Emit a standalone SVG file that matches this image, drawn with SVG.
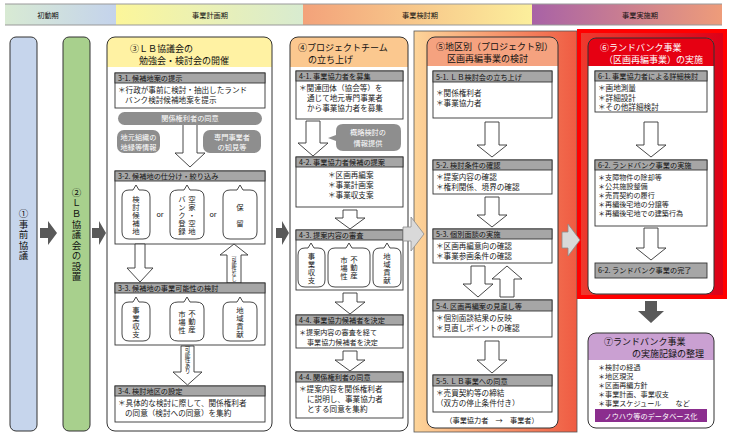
<svg xmlns="http://www.w3.org/2000/svg" width="733" height="434" viewBox="0 0 733 434">
<defs>
<linearGradient id="g1" x1="0" x2="1"><stop offset="0" stop-color="#d8ead3"/><stop offset="1" stop-color="#c4d3ec"/></linearGradient>
<linearGradient id="g2" x1="0" x2="1"><stop offset="0" stop-color="#fcf69a"/><stop offset="1" stop-color="#d8ebd0"/></linearGradient>
<linearGradient id="g3" x1="0" x2="1"><stop offset="0" stop-color="#f3a27a"/><stop offset="1" stop-color="#fcef9c"/></linearGradient>
<linearGradient id="g4" x1="0" x2="1"><stop offset="0" stop-color="#a862a6"/><stop offset="1" stop-color="#ee9c7a"/></linearGradient>
<linearGradient id="g5" x1="0" x2="1"><stop offset="0" stop-color="#fdd59a"/><stop offset="1" stop-color="#ef5b42"/></linearGradient>
<linearGradient id="g6" x1="0" x2="1"><stop offset="0" stop-color="#ee3a2e"/><stop offset="1" stop-color="#dc0018"/></linearGradient>
<style>
.t{font-family:"Noto Sans CJK JP","Noto Sans CJK SC",sans-serif;fill:#222}
.b{font-size:7.6px}
.bs{font-size:7.1px}
.h{font-size:7.2px;fill:#111}
.ti{font-size:9px;fill:#111}
.v{writing-mode:vertical-rl;text-orientation:upright;text-anchor:middle}
.vt{font-size:9.5px;fill:#111;letter-spacing:1px}
.vc{font-size:7.4px;letter-spacing:0.6px}
.vs{font-size:5.2px}
.c{text-anchor:middle}
.w{fill:#fff}
.sb{fill:#fff;stroke:#333;stroke-width:0.9}
.sh{fill:#a6a6a6;stroke:#333;stroke-width:0.9}
.ha{fill:#fff;stroke:#333;stroke-width:0.9}
.da{fill:#595959}
.la{fill:#d9d9d9;stroke:#8a8a8a;stroke-width:0.8}
.pill{fill:#8e8e8e}
.col{stroke:#333;stroke-width:1}
</style>
</defs>

<g id="phase-bar">
<rect x="5" y="4" width="111" height="21" fill="url(#g1)"/>
<rect x="116" y="4" width="187" height="21" fill="url(#g2)"/>
<rect x="303" y="4" width="229" height="21" fill="url(#g3)"/>
<rect x="532" y="4" width="190" height="21" fill="url(#g4)"/>
<line x1="5" y1="4" x2="722" y2="4" stroke="#999" stroke-width="1"/>
<line x1="5" y1="25" x2="722" y2="25" stroke="#999" stroke-width="1"/>
<text class="t h c" x="48" y="17.5">初動期</text>
<text class="t h c" x="210" y="17.5">事業計画期</text>
<text class="t h c" x="420" y="17.5">事業検討期</text>
<text class="t h c" x="640" y="17.5">事業実施期</text>
</g>

<g id="panel5">
<rect x="414" y="31" width="163" height="401" fill="url(#g5)" stroke="#555" stroke-width="0.8"/>
</g>
<g id="panel6">
<rect x="579" y="31" width="146" height="266" fill="url(#g6)"/>
<rect x="579" y="31" width="146" height="266" fill="none" stroke="#ff0000" stroke-width="4"/>
</g>

<g id="n1">
<rect class="col" x="10" y="37" width="27" height="394" rx="6" fill="#c6d5ec"/>
<text class="t v vt" x="23.5" y="235">①事前協議</text>
</g>

<g id="n2">
<rect class="col" x="63" y="37" width="27" height="394" rx="6" fill="#a8d08d"/>
<text class="t v vt" x="76.5" y="235">②ＬＢ協議会の設置</text>
</g>

<g id="n3">
<rect x="107" y="37" width="165" height="394" rx="8" fill="#fff"/>
<path d="M107,67 V45 Q107,37 115,37 H264 Q272,37 272,45 V67 Z" fill="#fff2a3"/>
<rect class="col" x="107" y="37" width="165" height="394" rx="8" fill="none"/>
<text class="t ti" x="130" y="52">③ＬＢ協議会の</text>
<text class="t ti" x="139" y="63.5">勉強会・検討会の開催</text>

<rect class="sb" x="115" y="73" width="150" height="35"/>
<rect class="sh" x="115" y="73" width="150" height="10"/>
<text class="t h" x="118" y="81">3-1. 候補地案の提示</text>
<text class="t b" x="118" y="93">＊行政が事前に検討・抽出したランド</text>
<text class="t b" x="125" y="102.5">バンク検討候補地案を提示</text>

<path class="ha" d="M183,124 H197 V153 H205 L190,167 L175,153 H183 Z"/>
<rect class="pill" x="118" y="112" width="144" height="13" rx="6.5"/>
<text class="t h c w" x="190" y="121">関係権利者の同意</text>
<rect class="pill" x="117" y="130" width="43" height="23" rx="7"/>
<text class="t h c w" x="138.5" y="140">地元組織の</text>
<text class="t h c w" x="138.5" y="149.5">地縁等情報</text>
<rect class="pill" x="203" y="130" width="58" height="23" rx="7"/>
<text class="t h c w" x="232" y="140">専門事業者</text>
<text class="t h c w" x="232" y="149.5">の知見等</text>

<rect class="sb" x="115" y="171" width="150" height="73"/>
<rect class="sh" x="115" y="171" width="150" height="10"/>
<text class="t h" x="118" y="179">3-2. 候補地の仕分け・絞り込み</text>
<path class="ha" d="M129,190 H133 L136,185 L139,190 H143 Q150,190 150,197 V232 Q150,239 143,239 H129 Q122,239 122,232 V197 Q122,190 129,190 Z"/>
<text class="t v vc" x="136" y="215">検討候補地</text>
<text class="t h c" x="160" y="217">or</text>
<path class="ha" d="M178,190 H184 L187,185 L190,190 H196 Q204,190 204,197 V232 Q204,239 196,239 H178 Q170,239 170,232 V197 Q170,190 178,190 Z"/>
<text class="t v vc" x="192" y="215">空家・空地</text>
<text class="t v vc" x="182" y="215">バンク登録</text>
<text class="t h c" x="213" y="217">or</text>
<path class="ha" d="M230,190 H237 L240,185 L243,190 H250 Q257,190 257,197 V232 Q257,239 250,239 H230 Q223,239 223,232 V197 Q223,190 230,190 Z"/>
<text class="t v vc" x="240" y="215">保　留</text>

<path class="ha" d="M135,244 H145 V268 H153 L140,282 L127,268 H135 Z"/>
<path class="ha" d="M227,283 V255 H220 L234,244 L248,255 H241 V283 Z"/>
<text class="t v vs" x="234" y="269">可能性なし</text>

<rect class="sb" x="115" y="283" width="150" height="62"/>
<rect class="sh" x="115" y="283" width="150" height="10"/>
<text class="t h" x="118" y="291">3-3. 候補地の事業可能性の検討</text>
<path class="ha" d="M129,302 H133 L136,297 L139,302 H143 Q150,302 150,309 V334 Q150,341 143,341 H129 Q122,341 122,334 V309 Q122,302 129,302 Z"/>
<text class="t v vc" x="136" y="322">事業収支</text>
<path class="ha" d="M178,302 H184 L187,297 L190,302 H196 Q204,302 204,309 V334 Q204,341 196,341 H178 Q170,341 170,334 V309 Q170,302 178,302 Z"/>
<text class="t v vc" x="192" y="321">不動産</text>
<text class="t v vc" x="182" y="322">市場性</text>
<path class="ha" d="M230,302 H237 L240,297 L243,302 H250 Q257,302 257,309 V334 Q257,341 250,341 H230 Q223,341 223,334 V309 Q223,302 230,302 Z"/>
<text class="t v vc" x="240" y="322">地域貢献</text>

<path class="ha" d="M181,346 H194 V372 H202 L187.5,385 L173,372 H181 Z"/>
<text class="t v vs" style="font-size:5.6px" x="187.5" y="360">可能性あり</text>

<rect class="sb" x="115" y="386" width="150" height="36"/>
<rect class="sh" x="115" y="386" width="150" height="10"/>
<text class="t h" x="118" y="394">3-4. 検討地区の設定</text>
<text class="t b" x="118" y="406">＊具体的な検討に際して、関係権利者</text>
<text class="t b" x="125" y="416">の同意（検討への同意）を集約</text>
</g>

<g id="n4">
<rect x="290" y="37" width="118" height="394" rx="8" fill="#fff"/>
<path d="M290,67 V45 Q290,37 298,37 H400 Q408,37 408,45 V67 Z" fill="#fbc88f"/>
<rect class="col" x="290" y="37" width="118" height="394" rx="8" fill="none"/>
<text class="t ti" x="298" y="51">④プロジェクトチーム</text>
<text class="t ti" x="308" y="63">の立ち上げ</text>

<rect class="sb" x="296" y="71" width="107" height="48"/>
<rect class="sh" x="296" y="71" width="107" height="10"/>
<text class="t h" x="299" y="79">4-1. 事業協力者を募集</text>
<text class="t b" x="299" y="91">＊関連団体（協会等）を</text>
<text class="t b" x="307" y="101">通じて地元専門事業者</text>
<text class="t b" x="307" y="111">から事業協力者を募集</text>

<path class="ha" d="M306,121 H320 V143 H328 L313,156 L298,143 H306 Z"/>
<path class="pill" d="M343,124 H394 Q401,124 401,131 V144 Q401,151 394,151 H343 Q336,151 336,144 V141 L328,138 L336,135 V131 Q336,124 343,124 Z"/>
<text class="t h c w" x="368" y="135">概略検討の</text>
<text class="t h c w" x="368" y="145.5">情報提供</text>

<rect class="sb" x="296" y="157" width="107" height="50"/>
<rect class="sh" x="296" y="157" width="107" height="10"/>
<text class="t h" x="299" y="165">4-2. 事業協力者候補の提案</text>
<text class="t b" x="328" y="178">＊区画再編案</text>
<text class="t b" x="328" y="188">＊事業計画案</text>
<text class="t b" x="328" y="198">＊事業収支案</text>

<path class="ha" d="M343,210 H357 V218 H365 L350,229 L335,218 H343 Z"/>

<rect class="sb" x="296" y="230" width="107" height="60"/>
<rect class="sh" x="296" y="230" width="107" height="10"/>
<text class="t h" x="299" y="238">4-3. 提案内容の審査</text>
<path class="ha" d="M305,248 H308 L311,243 L314,248 H318 Q325,248 325,255 V280 Q325,287 318,287 H305 Q298,287 298,280 V255 Q298,248 305,248 Z"/>
<text class="t v vc" x="311.5" y="268">事業収支</text>
<path class="ha" d="M335,248 H346 L349,243 L352,248 H363 Q370,248 370,255 V280 Q370,287 363,287 H335 Q328,287 328,280 V255 Q328,248 335,248 Z"/>
<text class="t v vc" x="354" y="267">不動産</text>
<text class="t v vc" x="344" y="268">市場性</text>
<path class="ha" d="M380,248 H384 L387,243 L390,248 H394 Q401,248 401,255 V280 Q401,287 394,287 H380 Q373,287 373,280 V255 Q373,248 380,248 Z"/>
<text class="t v vc" x="387" y="268">地域貢献</text>

<path class="ha" d="M343,293 H357 V302 H365 L350,314 L335,302 H343 Z"/>

<rect class="sb" x="296" y="315" width="107" height="33"/>
<rect class="sh" x="296" y="315" width="107" height="10"/>
<text class="t h" x="299" y="323">4-4. 事業協力候補者を決定</text>
<text class="t bs" x="299" y="335">＊提案内容の審査を経て</text>
<text class="t bs" x="307" y="344.5">事業協力候補者を決定</text>

<path class="ha" d="M343,351 H357 V360 H365 L350,371 L335,360 H343 Z"/>

<rect class="sb" x="296" y="372" width="107" height="46"/>
<rect class="sh" x="296" y="372" width="107" height="10"/>
<text class="t h" x="299" y="380">4-4. 関係権利者の同意</text>
<text class="t b" x="299" y="392">＊提案内容を関係権利者</text>
<text class="t b" x="307" y="402">に説明し、事業協力者</text>
<text class="t b" x="307" y="412">とする同意を集約</text>
</g>

<g id="n5">
<rect x="427" y="37" width="131" height="391" rx="8" fill="#fff"/>
<path d="M427,66 V45 Q427,37 435,37 H550 Q558,37 558,45 V66 Z" fill="#f5a27f"/>
<rect class="col" x="427" y="37" width="131" height="391" rx="8" fill="none"/>
<text class="t ti" x="436" y="50">⑤地区別（プロジェクト別）</text>
<text class="t ti" x="447" y="62">区画再編事業の検討</text>

<rect class="sb" x="433" y="71" width="119" height="47"/>
<rect class="sh" x="433" y="71" width="119" height="11"/>
<text class="t h" x="436" y="79.5">5-1. ＬＢ検討会の立ち上げ</text>
<text class="t b" x="436" y="96">＊関係権利者</text>
<text class="t b" x="436" y="106">＊事業協力者</text>

<path class="ha" d="M485,122 H499 V145 H507 L492,157 L477,145 H485 Z"/>

<rect class="sb" x="433" y="160" width="119" height="34"/>
<rect class="sh" x="433" y="160" width="119" height="10"/>
<text class="t h" x="436" y="168">5-2. 検討条件の確認</text>
<text class="t b" x="436" y="180">＊提案内容の確認</text>
<text class="t b" x="436" y="190">＊権利関係、境界の確認</text>

<path class="ha" d="M485,197 H499 V215 H507 L492,227 L477,215 H485 Z"/>

<rect class="sb" x="433" y="229" width="119" height="34"/>
<rect class="sh" x="433" y="229" width="119" height="10"/>
<text class="t h" x="436" y="237">5-3. 個別面談の実施</text>
<text class="t b" x="436" y="249">＊区画再編意向の確認</text>
<text class="t b" x="436" y="259">＊事業参画条件の確認</text>

<path class="ha" d="M471,266 H485 V284 H493 L478,297 L463,284 H471 Z"/>
<path class="ha" d="M500,297 V279 H492 L507,266 L522,279 H514 V297 Z"/>

<rect class="sb" x="433" y="300" width="119" height="37"/>
<rect class="sh" x="433" y="300" width="119" height="11"/>
<text class="t h" x="436" y="308.5">5-4. 区画再編案の見直し等</text>
<text class="t b" x="436" y="321">＊個別面談結果の反映</text>
<text class="t b" x="436" y="331">＊見直しポイントの確認</text>

<path class="ha" d="M485,341 H499 V360 H507 L492,373 L477,360 H485 Z"/>

<rect class="sb" x="433" y="375" width="119" height="37"/>
<rect class="sh" x="433" y="375" width="119" height="11"/>
<text class="t h" x="436" y="383.5">5-5. ＬＢ事業への同意</text>
<text class="t b" x="436" y="396">＊売買契約等の締結</text>
<text class="t b" x="436" y="406">（双方の停止条件付き）</text>
<text class="t h c" x="492" y="423">（事業協力者　→　事業者）</text>
</g>

<g id="n6">
<rect x="588" y="38" width="126" height="256" rx="8" fill="#fff"/>
<path d="M588,66 V46 Q588,38 596,38 H706 Q714,38 714,46 V66 Z" fill="#e60012"/>
<rect class="col" x="588" y="38" width="126" height="256" rx="8" fill="none"/>
<text class="t ti w" x="600" y="51">⑥ランドバンク事業</text>
<text class="t ti w" x="604" y="63">（区画再編事業）の実施</text>

<rect class="sb" x="595" y="71" width="112" height="41"/>
<rect class="sh" x="595" y="71" width="112" height="10"/>
<text class="t h" x="598" y="79">6-1. 事業協力者による詳細検討</text>
<text class="t b" x="598" y="91">＊画地測量</text>
<text class="t b" x="598" y="100.5">＊詳細設計</text>
<text class="t b" x="598" y="110">＊その他詳細検討</text>

<path class="ha" d="M644,122 H658 V145 H666 L651,157 L636,145 H644 Z"/>

<rect class="sb" x="595" y="160" width="112" height="66"/>
<rect class="sh" x="595" y="160" width="112" height="10"/>
<text class="t h" x="598" y="168">6-2. ランドバンク事業の実施</text>
<text class="t bs" x="598" y="180">＊支障物件の除却等</text>
<text class="t bs" x="598" y="189">＊公共施設整備</text>
<text class="t bs" x="598" y="198">＊売買契約の履行</text>
<text class="t bs" x="598" y="207">＊再編後宅地の分譲等</text>
<text class="t bs" x="598" y="216">＊再編後宅地での建築行為</text>

<path class="ha" d="M644,228 H658 V248 H666 L651,260 L636,248 H644 Z"/>

<rect class="sh" x="595" y="263" width="112" height="15"/>
<text class="t h" x="598" y="273">6-2. ランドバンク事業の完了</text>
</g>

<g id="n7">
<rect x="588" y="333" width="126" height="95" rx="8" fill="#fff"/>
<path d="M588,360 V341 Q588,333 596,333 H706 Q714,333 714,341 V360 Z" fill="#caa0d2"/>
<rect class="col" x="588" y="333" width="126" height="95" rx="8" fill="none"/>
<text class="t ti" x="604" y="345">⑦ランドバンク事業</text>
<text class="t ti" x="632" y="357">の実施記録の整理</text>
<text class="t bs" x="598" y="369.5">＊検討の経過</text>
<text class="t bs" x="598" y="378.5">＊地区現況</text>
<text class="t bs" x="598" y="387.5">＊区画再編方針</text>
<text class="t bs" x="598" y="396.5">＊事業計画、事業収支</text>
<text class="t bs" x="598" y="405.5">＊事業スケジュール　　など</text>
<rect x="595" y="409" width="112" height="13" fill="#8b2e8e"/>
<text class="t h c w" x="651" y="418.5">ノウハウ等のデータベース化</text>
</g>

<g id="connectors">
<path class="da" d="M40,228 H48 V221 L57,233 L48,245 V238 H40 Z"/>
<path class="da" d="M92,228 H99 V221 L106,233 L99,245 V238 H92 Z"/>
<path class="da" d="M276,228 H282 V221 L289,233 L282,245 V238 H276 Z"/>
<path class="la" d="M403,227 H411 V217 L424,234 L411,251 V241 H403 Z"/>
<path class="la" d="M562,232 H568 V224 L580,240 L568,256 V248 H562 Z"/>
<path class="da" d="M645,301 H657 V311 H664 L651,323 L638,311 H645 Z"/>
</g>
</svg>
